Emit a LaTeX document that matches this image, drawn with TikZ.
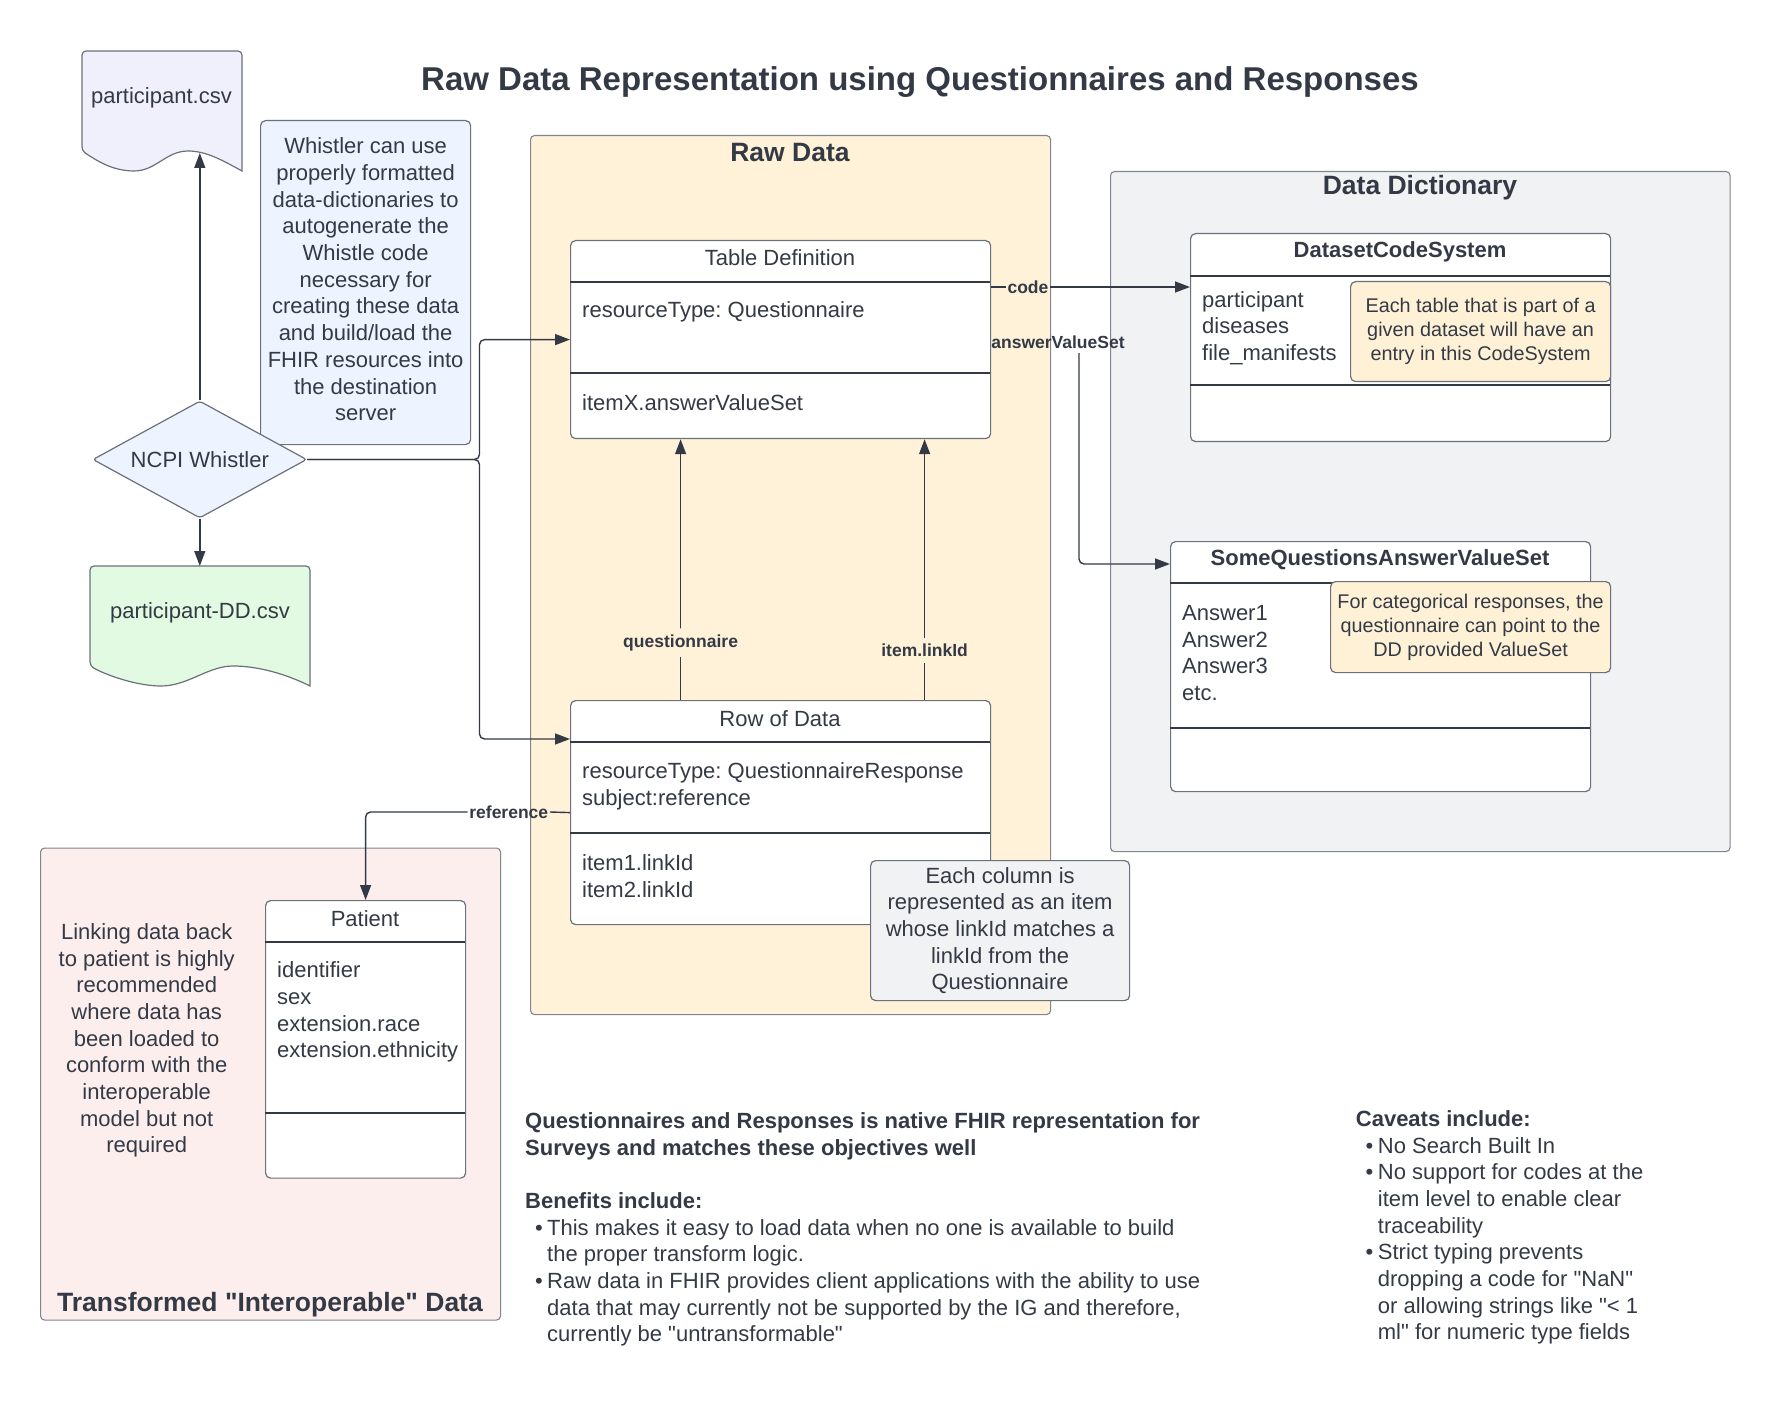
\documentclass[tikz,border=0pt]{standalone}
\usepackage{fontspec}
\setmainfont{Liberation Sans}
\newfontfamily\quotefont{Liberation Sans}
\usetikzlibrary{shapes.geometric,arrows.meta}
\frenchspacing

\definecolor{ink}{HTML}{333A45}
\definecolor{edge}{HTML}{6B7079}
\definecolor{rawfill}{HTML}{FFF2D9}
\definecolor{ddfill}{HTML}{F1F2F4}
\definecolor{trfill}{HTML}{FDEEEE}
\definecolor{csvfill}{HTML}{F0F0FD}
\definecolor{ddcsvfill}{HTML}{E2F9E2}
\definecolor{bluefill}{HTML}{EDF4FF}
\definecolor{notefill}{HTML}{FFF1D6}

\newcommand{\bulitem}{\makebox[22pt][r]{\textbullet\hspace{4.5pt}}}
\newcommand{\contline}{\hspace*{22pt}}
\newcommand{\dq}{{\quotefont"}}

\begin{document}
\begin{tikzpicture}
	[x=1pt,y=-1pt,
	every node/.style={text=ink,inner sep=0pt},
	body/.style={font=\fontsize{22}{26.7}\selectfont},
	bold/.style={font=\fontsize{22}{26.7}\selectfont\bfseries},
	small/.style={font=\fontsize{19.8}{24}\selectfont},
	head/.style={font=\fontsize{26.5}{32}\selectfont\bfseries},
	lbl/.style={font=\fontsize{17.5}{21}\selectfont\bfseries,inner sep=1.5pt},
	group/.style={draw=edge!85,line width=1.1pt,rounded corners=4pt,anchor=north west},
	classbox/.style={draw=edge,fill=white,line width=1.2pt,rounded corners=5pt,anchor=north west},
	sep/.style={draw=ink,line width=1.2pt},
	note/.style={draw=edge,line width=1.2pt,rounded corners=5pt,anchor=north west,body,align=center},
	doc/.style={draw=edge,line width=1.2pt},
	conn/.style={draw=ink,line width=1.4pt,rounded corners=5pt,-{Triangle[length=15pt,width=11pt]}},
	link/.style={draw=ink,line width=1.4pt}]
	\useasboundingbox (0,0) rectangle (1770,1420);

	\node[font=\fontsize{33}{40}\selectfont\bfseries] (title) at (920,82) {Raw Data Representation using Questionnaires and Responses};

	% containers
	\node[group,fill=rawfill,minimum width=520pt,minimum height=879pt] (raw) at (530,135) {};
	\node[group,fill=ddfill,minimum width=619.5pt,minimum height=680pt] (dd) at (1110,171) {};
	\node[group,fill=trfill,minimum width=460pt,minimum height=472pt] (tr) at (40,847.5) {};
	\node[head] (rawtitle) at (790,153) {Raw Data};
	\node[head] (ddtitle) at (1420,188) {Data Dictionary};
	\node[head] (trtitle) at (270,1304.6) {Transformed \dq Interoperable\dq{} Data};

	% csv files
	\draw[doc,fill=csvfill] (242,171) [rounded corners=4pt] -- (242,51) -- (82,51) -- (82,151) [sharp corners]
		.. controls (96,160) and (112,171) .. (134,171) .. controls (156,171) and (166,151) .. (188,151)
		.. controls (206,151) and (222,160) .. (242,171) -- cycle;
	\node[body] (pcsv) at (161.5,98) {participant.csv};
	\draw[doc,fill=ddcsvfill] (310,686) [rounded corners=4pt] -- (310,566) -- (90,566) -- (90,666) [sharp corners]
		.. controls (108,676) and (138,686) .. (161,686) .. controls (188,686) and (208,666) .. (233,666)
		.. controls (258,666) and (286,674) .. (310,686) -- cycle;
	\node[body] (pdd) at (200,613) {participant-DD.csv};
	\coordinate (csvtip) at (199.8,153);
	\coordinate (ddtip) at (199.8,566);

	\node[note,fill=bluefill,minimum width=210pt,minimum height=324pt] (whnote) at (260,120) {Whistler can use\\properly formatted\\data-dictionaries to\\autogenerate the\\Whistle code\\necessary for\\creating these data\\and build/load the\\FHIR resources into\\the destination\\server\\[-20pt]};
	\node[diamond,draw=edge,fill=bluefill,line width=1.2pt,rounded corners=3pt,shape aspect=1.8,minimum width=214pt,minimum height=117pt,body] (whistler) at (199.8,459.5) {NCPI Whistler};

	% Table Definition
	\node[classbox,minimum width=420pt,minimum height=198pt] (tbl) at (570,240) {};
	\draw[sep] (570,282) -- (990,282);
	\draw[sep] (570,373) -- (990,373);
	\node[body] (tblname) at (780,258) {Table Definition};
	\node[body,anchor=west] (tblattr) at (582,312) {resourceType: Questionnaire};
	\node[body,anchor=west] (tblop) at (582,403) {itemX.answerValueSet};

	% Row of Data
	\node[classbox,minimum width=420pt,minimum height=224pt] (row) at (570,700) {};
	\draw[sep] (570,742) -- (990,742);
	\draw[sep] (570,833) -- (990,833);
	\node[body] (rowname) at (780,719) {Row of Data};
	\node[body,anchor=west,align=left] (rowattr) at (582,786) {resourceType: QuestionnaireResponse\\subject:reference};
	\node[body,anchor=west,align=left] (rowop) at (582,876) {item1.linkId\\item2.linkId};
	\node[note,fill=ddfill,minimum width=259pt,minimum height=140pt] (colnote) at (870,860) {Each column is\\represented as an item\\whose linkId matches a\\linkId from the\\Questionnaire};

	% DatasetCodeSystem
	\node[classbox,minimum width=420pt,minimum height=208pt] (dcs) at (1190,233) {};
	\draw[sep] (1190,276) -- (1610,276);
	\draw[sep] (1190,385) -- (1610,385);
	\node[bold] (dcsname) at (1400,252) {DatasetCodeSystem};
	\node[body,anchor=west,align=left] (dcsattr) at (1202,328) {participant\\diseases\\file\_manifests};
	\node[note,small,fill=notefill,minimum width=260pt,minimum height=100pt] (dcsnote) at (1350,281) {Each table that is part of a\\given dataset will have an\\entry in this CodeSystem};

	% SomeQuestionsAnswerValueSet
	\node[classbox,minimum width=420pt,minimum height=250pt] (avs) at (1170,541) {};
	\draw[sep] (1170,583) -- (1590,583);
	\draw[sep] (1170,728) -- (1590,728);
	\node[bold] (avsname) at (1380,560) {SomeQuestionsAnswerValueSet};
	\node[body,anchor=west,align=left] (avsattr) at (1182,653) {Answer1\\Answer2\\Answer3\\etc.};
	\node[note,small,fill=notefill,minimum width=280pt,minimum height=91pt] (avsnote) at (1330,581) {For categorical responses, the\\questionnaire can point to the\\DD provided ValueSet};

	% Patient
	\node[classbox,minimum width=200pt,minimum height=277.5pt] (pat) at (265,900) {};
	\draw[sep] (265,942) -- (465,942);
	\draw[sep] (265,1113) -- (465,1113);
	\node[body] (patname) at (365,919) {Patient};
	\node[body,anchor=west,align=left] (patattr) at (277,1012) {identifier\\sex\\extension.race\\extension.ethnicity};
	\node[body,align=center] (linknote) at (146.7,1040.5) {Linking data back\\to patient is highly\\recommended\\where data has\\been loaded to\\conform with the\\interoperable\\model but not\\required};

	% connectors
	\draw[conn] (whistler.north) -- (csvtip);
	\draw[conn] (whistler.south) -- (ddtip);
	\coordinate (fork) at (479.5,459.5);
	\draw[conn] (whistler.east) -- (fork) |- (tbl.west);
	\draw[conn] (whistler.east) -- (fork) |- ([yshift=-39pt]row.north west);
	\draw[conn] ([xshift=-100pt]row.north) -- node[lbl,inner ysep=6pt,fill=rawfill,pos=0.22] (qlbl) {questionnaire} ([xshift=-100pt]tbl.south);
	\draw[conn] ([xshift=144pt]row.north) -- node[lbl,inner ysep=6pt,fill=rawfill,pos=0.19] (ilbl) {item.linkId} ([xshift=144pt]tbl.south);
	\draw[conn] ([yshift=-47pt]tbl.north east) -- node[lbl,fill=rawfill,pos=0.185] (codelbl) {code} ([yshift=-54pt]dcs.north west);
	\node[lbl] (avslbl) at (1058,342) {answerValueSet};
	\draw[conn] ([yshift=-3pt]avslbl.south -| 1079,0) |- ([yshift=-23pt]avs.north west);
	\node[lbl] (reflbl) at (508.8,812) {reference};
	\draw[link] (row.west) -- (reflbl.east);
	\draw[conn] (reflbl.west) -| (pat.north);

	% notes at the bottom
	\node[body,anchor=west,align=left] (benefits) at (525,1229.5) {\textbf{Questionnaires and Responses is native FHIR representation for}\\
		\textbf{Surveys and matches these objectives well}\\[26.7pt]
		\textbf{Benefits include:}\\
		\bulitem This makes it easy to load data when no one is available to build\\
		\contline the proper transform logic.\\
		\bulitem Raw data in FHIR provides client applications with the ability to use\\
		\contline data that may currently not be supported by the IG and therefore,\\
		\contline currently be \dq untransformable\dq};
	\node[body,anchor=west,align=left] (caveats) at (1355.7,1227.5) {\textbf{Caveats include:}\\
		\bulitem No Search Built In\\
		\bulitem No support for codes at the\\
		\contline item level to enable clear\\
		\contline traceability\\
		\bulitem Strict typing prevents\\
		\contline dropping a code for \dq NaN\dq\\
		\contline or allowing strings like \dq< 1\\
		\contline ml\dq{} for numeric type fields};
\end{tikzpicture}
\end{document}
